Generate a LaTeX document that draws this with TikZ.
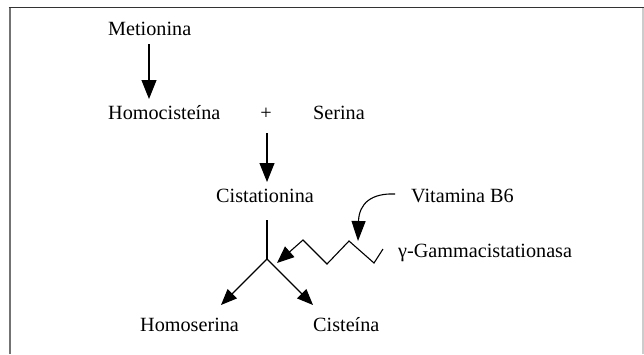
\documentclass[tikz,border=0pt]{standalone}
\usepackage{fontspec}
\setmainfont{Liberation Serif}
\usetikzlibrary{arrows.meta}
\begin{document}
\begin{tikzpicture}[x=1pt,y=-1pt,
  lbl/.style={anchor=base west,inner sep=0pt,font=\fontsize{20.2}{24}\selectfont},
  conn/.style={line width=1.1pt,black},
  arr/.style={conn,-{Triangle[length=19pt,width=15pt]}},
  sarr/.style={conn,-{Triangle[length=17pt,width=14pt]}},
  barr/.style={conn,-{Triangle[length=16pt,width=13pt]}},
  carr/.style={conn,-{Triangle[length=20pt,width=14pt]}}]
\useasboundingbox (0,0) rectangle (644,354);
% frame
\draw[line width=2pt,color=black!55] (9.5,354) -- (9.5,7.5);
\draw[line width=1.5pt,color=black!80] (8.5,7.5) -- (644,7.5);
\draw[line width=1.5pt,color=black!20] (643,7.5) -- (643,354);
% texts
\node[lbl] (met) at (108,35.5) {Metionina};
\node[lbl] (hom) at (108,119.5) {Homocisteína};
\node[lbl,anchor=base] (plus) at (266,119.5) {+};
\node[lbl] (ser) at (313,119.5) {Serina};
\node[lbl] (cis) at (216,202.5) {Cistationina};
\node[lbl] (vit) at (411,202.5) {Vitamina B6};
\node[lbl] (gam) at (398,257.5) {γ-Gammacistationasa};
\node[lbl] (hse) at (140,331.5) {Homoserina};
\node[lbl] (cst) at (313,331.5) {Cisteína};
% coordinates
\coordinate (a1s) at (149,44);
\coordinate (a1e) at (149,99);
\coordinate (a2s) at (267,133);
\coordinate (a2e) at (267,182);
\coordinate (vs) at (267,220);
\coordinate (br) at (267,259);
\coordinate (tl) at (221,305);
\coordinate (tr) at (313,305);
\coordinate (z0) at (383,249);
\coordinate (z1) at (374,263);
\coordinate (z2) at (349,241);
\coordinate (z3) at (327,264);
\coordinate (z4) at (303,240);
\coordinate (zt) at (277,263);
\coordinate (cvs) at (395,194);
\coordinate (cvt) at (358,241);
% connectors
\draw[arr] (a1s) -- (a1e);
\draw[arr] (a2s) -- (a2e);
\draw[conn] (vs) -- (br);
\draw[barr] (br) -- (tl);
\draw[barr] (br) -- (tr);
\draw[sarr,line join=miter] (z0) -- (z1) -- (z2) -- (z3) -- (z4) -- (zt);
\draw[carr] (cvs) .. controls (372,193) and (359,203) .. (cvt);
\end{tikzpicture}
\end{document}
